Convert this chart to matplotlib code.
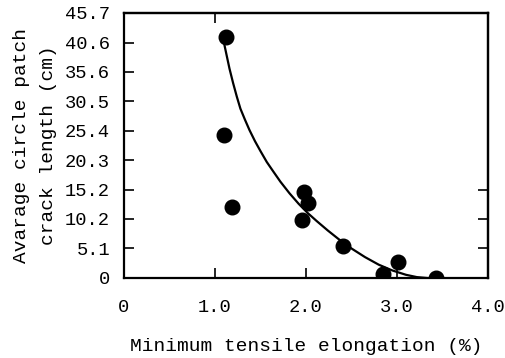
import numpy as np
from matplotlib import pyplot as plt

plt.rcParams['font.family'] = ['Liberation Mono', 'DejaVu Sans Mono']

# measured points
elong = [1.12, 1.10, 1.19, 1.98, 2.02, 1.96, 2.41, 2.85, 3.01, 3.43]
crack = [41.6, 24.6, 12.3, 14.8, 12.9, 10.0, 5.6, 0.7, 2.8, 0.0]

# fitted curve as drawn
curve_x = [1.10, 1.13, 1.16, 1.20, 1.24, 1.28, 1.33, 1.38, 1.44, 1.50,
           1.57, 1.64, 1.72, 1.82, 1.92, 2.02, 2.12, 2.24, 2.36, 2.50,
           2.65, 2.80, 2.95, 3.10, 3.22, 3.33]
curve_y = [40.5, 38.3, 36.1, 33.6, 31.3, 29.2, 27.3, 25.5, 23.6, 21.9,
           20.0, 18.4, 16.6, 14.6, 12.8, 11.2, 9.8, 8.2, 6.7, 5.1,
           3.6, 2.3, 1.3, 0.55, 0.15, 0.0]

xticks = [0, 1.0, 2.0, 3.0, 4.0]
xlabels = ['0', '1.0', '2.0', '3.0', '4.0']
yticks = [0, 5.1, 10.2, 15.2, 20.3, 25.4, 30.5, 35.6, 40.6, 45.7]
ylabels = ['0', '5.1', '10.2', '15.2', '20.3', '25.4', '30.5', '35.6', '40.6', '45.7']

fig = plt.figure(figsize=(5.05, 3.58), dpi=100)
ax = fig.add_axes([0.2455, 0.2235, 0.7205, 0.7402])

ax.plot(curve_x, curve_y, color='black', lw=1.6)
ax.plot(elong, crack, 'o', color='black', ms=10.5)

ax.set_xlim(0, 4.0)
ax.set_ylim(0, 45.7)
ax.set_xticks(xticks, xlabels)
ax.set_yticks(yticks, ylabels)
ax.tick_params(axis='x', direction='in', length=7, width=1.2, pad=15, labelsize=13.5)
ax.tick_params(axis='y', direction='in', length=7, width=1.2, pad=10, labelsize=13.5)
for t in ax.xaxis.get_major_ticks():
    if t.get_loc() in (0, 4.0):
        t.tick1line.set_visible(False)
for t in ax.yaxis.get_major_ticks():
    if t.get_loc() in (0, 45.7):
        t.tick1line.set_visible(False)

top = ax.secondary_xaxis('top')
top.set_xticks([1.0])
top.tick_params(direction='in', length=7, width=1.2, labeltop=False)
right = ax.secondary_yaxis('right')
right.set_yticks([5.1, 10.2, 15.2])
right.tick_params(direction='in', length=7, width=1.2, labelright=False)

for a in (ax, top, right):
    for s in a.spines.values():
        s.set_linewidth(1.6)

ax.set_xlabel('Minimum tensile elongation (%)', fontsize=14, labelpad=16)
ax.set_ylabel('Avarage circle patch\ncrack length (cm)', fontsize=14, labelpad=6,
              linespacing=1.75)

plt.savefig('out.png', dpi=100)
